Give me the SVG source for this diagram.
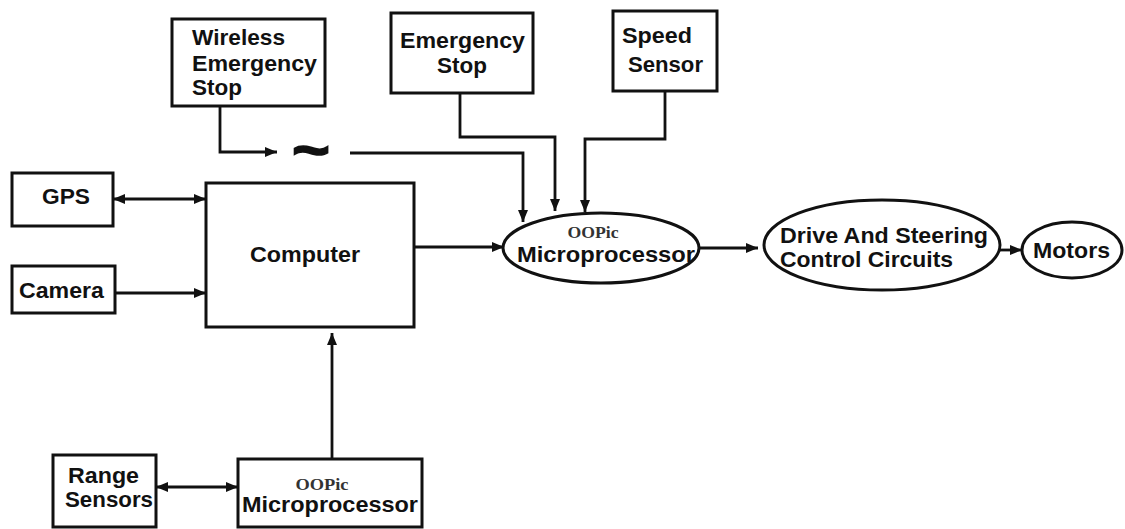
<svg xmlns="http://www.w3.org/2000/svg" width="1125" height="529" viewBox="0 0 1125 529">
<style>
.box{fill:#fff;stroke:#111;stroke-width:3}
.ln{fill:none;stroke:#111;stroke-width:2.8}
.t{font-family:"Liberation Sans",Arial,sans-serif;font-weight:bold;font-size:22px;fill:#111}
.s{font-family:"Liberation Serif","Times New Roman",serif;font-weight:bold;font-size:16px;fill:#333}
</style>
<defs>
<marker id="ah" markerUnits="userSpaceOnUse" markerWidth="14" markerHeight="12" refX="12" refY="6" orient="auto-start-reverse">
<path d="M0,1 L12,6 L0,11 z" fill="#111"/>
</marker>
</defs>
<rect width="1125" height="529" fill="#fff"/>
<g id="connectors">
<path class="ln" d="M220,107 V152 H277" marker-end="url(#ah)"/>
<path class="ln" d="M350,153 H523 V222" marker-end="url(#ah)"/>
<path class="ln" d="M460,93 V137 H555 V211" marker-end="url(#ah)"/>
<path class="ln" d="M665,91 V139 H585 V212" marker-end="url(#ah)"/>
<path class="ln" d="M113,199 H206" marker-start="url(#ah)" marker-end="url(#ah)"/>
<path class="ln" d="M115,293 H206" marker-end="url(#ah)"/>
<path class="ln" d="M414,247 H504" marker-end="url(#ah)"/>
<path class="ln" d="M700,248 H758" marker-end="url(#ah)"/>
<path class="ln" d="M1000,250 H1022" marker-end="url(#ah)"/>
<path class="ln" d="M332,459 V333" marker-end="url(#ah)"/>
<path class="ln" d="M156,487 H238" marker-start="url(#ah)" marker-end="url(#ah)"/>
<text class="t" transform="translate(311,170) scale(1,2.6)" text-anchor="middle" font-size="44" stroke="#111" stroke-width="0.6" textLength="38" lengthAdjust="spacingAndGlyphs">~</text>
</g>
<g id="wireless-emergency-stop">
<rect class="box" x="172" y="19" width="153" height="87"/>
<text class="t" x="192" y="45" textLength="93" lengthAdjust="spacingAndGlyphs">Wireless</text>
<text class="t" x="192" y="71" textLength="125" lengthAdjust="spacingAndGlyphs">Emergency</text>
<text class="t" x="192" y="95" textLength="50" lengthAdjust="spacingAndGlyphs">Stop</text>
</g>
<g id="emergency-stop">
<rect class="box" x="391" y="13" width="142" height="80"/>
<text class="t" x="400" y="48" textLength="125" lengthAdjust="spacingAndGlyphs">Emergency</text>
<text class="t" x="437" y="73" textLength="50" lengthAdjust="spacingAndGlyphs">Stop</text>
</g>
<g id="speed-sensor">
<rect class="box" x="613" y="11" width="104" height="80"/>
<text class="t" x="622" y="43" textLength="70" lengthAdjust="spacingAndGlyphs">Speed</text>
<text class="t" x="628" y="72" textLength="75" lengthAdjust="spacingAndGlyphs">Sensor</text>
</g>
<g id="gps">
<rect class="box" x="12" y="173" width="101" height="53"/>
<text class="t" x="42" y="204" textLength="48" lengthAdjust="spacingAndGlyphs">GPS</text>
</g>
<g id="camera">
<rect class="box" x="12" y="266" width="103" height="47"/>
<text class="t" x="19" y="298" textLength="85" lengthAdjust="spacingAndGlyphs">Camera</text>
</g>
<g id="computer">
<rect class="box" x="206" y="183" width="208" height="144"/>
<text class="t" x="250" y="262" textLength="110" lengthAdjust="spacingAndGlyphs">Computer</text>
</g>
<g id="oopic-top">
<ellipse class="box" cx="601" cy="248" rx="98" ry="35"/>
<text class="s" x="593" y="238" text-anchor="middle" textLength="51" lengthAdjust="spacingAndGlyphs">OOPic</text>
<text class="t" x="517" y="262" textLength="178" lengthAdjust="spacingAndGlyphs">Microprocessor</text>
</g>
<g id="drive-steering">
<ellipse class="box" cx="882" cy="245" rx="118" ry="45"/>
<text class="t" x="780" y="243" textLength="208" lengthAdjust="spacingAndGlyphs">Drive And Steering</text>
<text class="t" x="780" y="267" textLength="173" lengthAdjust="spacingAndGlyphs">Control Circuits</text>
</g>
<g id="motors">
<ellipse class="box" cx="1072" cy="250" rx="50" ry="28"/>
<text class="t" x="1033" y="258" textLength="77" lengthAdjust="spacingAndGlyphs">Motors</text>
</g>
<g id="range-sensors">
<rect class="box" x="53" y="455" width="103" height="72"/>
<text class="t" x="68" y="483" textLength="71" lengthAdjust="spacingAndGlyphs">Range</text>
<text class="t" x="65" y="507" textLength="88" lengthAdjust="spacingAndGlyphs">Sensors</text>
</g>
<g id="oopic-bottom">
<rect class="box" x="238" y="459" width="184" height="68"/>
<text class="s" x="322" y="490" text-anchor="middle" textLength="53" lengthAdjust="spacingAndGlyphs">OOPic</text>
<text class="t" x="242" y="512" textLength="176" lengthAdjust="spacingAndGlyphs">Microprocessor</text>
</g>
</svg>
